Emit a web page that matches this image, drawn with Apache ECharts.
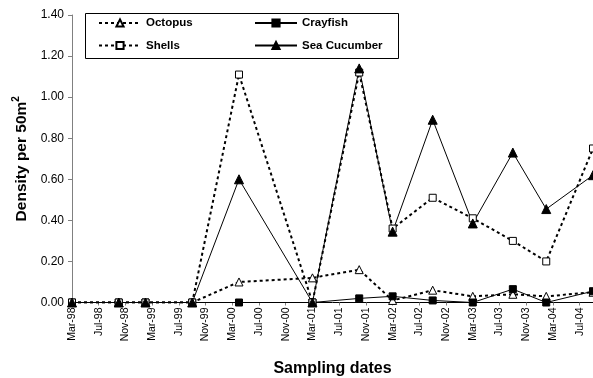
<!DOCTYPE html>
<html>
<head>
<meta charset="utf-8">
<script src="https://cdn.jsdelivr.net/npm/echarts@6/dist/echarts.min.js"></script>
<style>
html,body{margin:0;padding:0;background:#fff;}
#chart{width:593px;height:378px;}
</style>
</head>
<body>
<div id="chart"></div>
<script>
// Sampling dates (year-month)
var samplingDates = ['1998-03','1998-10','1999-02','1999-09','2000-04','2001-03','2001-10','2002-03','2002-09','2003-03','2003-09','2004-02','2004-09'];
var octopus      = [0, 0, 0, 0, 0.10, 0.12, 0.16, 0.01, 0.06, 0.03, 0.04, 0.03, 0.05];
var crayfish     = [0, 0, 0, 0, 0.00, 0.00, 0.02, 0.03, 0.01, 0.00, 0.065, 0.00, 0.055];
var shells       = [0, 0, 0, 0, 1.11, 0.00, 1.12, 0.36, 0.51, 0.41, 0.30, 0.20, 0.75];
var seaCucumber  = [0, 0, 0, 0, 0.60, 0.00, 1.14, 0.345, 0.89, 0.385, 0.73, 0.455, 0.62];
var tickLabels = ['Mar-98','Jul-98','Nov-98','Mar-99','Jul-99','Nov-99','Mar-00','Jul-00','Nov-00','Mar-01','Jul-01','Nov-01','Mar-02','Jul-02','Nov-02','Mar-03','Jul-03','Nov-03','Mar-04','Jul-04'];
var yTicks = [0, 0.2, 0.4, 0.6, 0.8, 1.0, 1.2, 1.4];

var FONT = 'Liberation Sans, Arial, sans-serif';
function monthIndex(s) {
  var p = s.split('-');
  return (parseInt(p[0], 10) - 1998) * 12 + (parseInt(p[1], 10) - 3);
}
var xs = samplingDates.map(monthIndex);
function pairs(vals) { return vals.map(function (v, i) { return [xs[i], v]; }); }

var chart = echarts.init(document.getElementById('chart'), null, {renderer: 'canvas'});
var dotted = {color: '#000', width: 2, type: [3, 3]};
var solid = {color: '#000', width: 1, type: 'solid'};
var legendText = {fontFamily: FONT, fontSize: 11.5, fontWeight: 'bold', color: '#000'};

chart.setOption({
  animation: false,
  backgroundColor: '#fff',
  grid: {left: 72, right: 0, top: 15, bottom: 75.5, containLabel: false, outerBoundsMode: 'none'},
  graphic: [{
    type: 'rect', left: 85, top: 13, z: 0,
    shape: {width: 313, height: 45},
    style: {fill: '#fff', stroke: '#000', lineWidth: 1}
  }],
  legend: [{
    data: ['Octopus', 'Shells'], orient: 'vertical', left: 98, top: 17,
    itemWidth: 42, itemHeight: 9, itemGap: 10.5, padding: 0,
    textStyle: legendText
  }, {
    data: ['Crayfish', 'Sea Cucumber'], orient: 'vertical', left: 254, top: 17,
    itemWidth: 42, itemHeight: 9, itemGap: 10.5, padding: 0,
    textStyle: legendText
  }],
  xAxis: {
    type: 'value', min: 0, max: 78, interval: 4,
    name: 'Sampling dates', nameLocation: 'middle', nameGap: 58,
    nameTextStyle: {fontFamily: FONT, fontSize: 16, fontWeight: 'bold', color: '#000'},
    axisLine: {lineStyle: {color: '#000', width: 1}},
    axisTick: {show: true, length: 3, lineStyle: {color: '#808080'}},
    splitLine: {show: false},
    axisLabel: {
      rotate: 90, margin: 5, fontFamily: FONT, fontSize: 10.5, color: '#000',
      showMaxLabel: false,
      formatter: function (v) { return (v % 4 === 0 && tickLabels[v / 4]) ? tickLabels[v / 4] : ''; }
    }
  },
  yAxis: {
    type: 'value', min: yTicks[0], max: yTicks[yTicks.length - 1], interval: 0.2,
    name: '{a|Density per 50m}{b|2}', nameLocation: 'middle', nameGap: 39,
    nameTextStyle: {
      fontFamily: FONT, fontSize: 15.5, fontWeight: 'bold', color: '#000',
      rich: {
        a: {fontFamily: FONT, fontSize: 15.5, fontWeight: 'bold', color: '#000', lineHeight: 20},
        b: {fontFamily: FONT, fontSize: 10, fontWeight: 'bold', color: '#000', verticalAlign: 'top', lineHeight: 20}
      }
    },
    axisLine: {show: true, lineStyle: {color: '#808080', width: 1}},
    axisTick: {show: true, length: 4, lineStyle: {color: '#808080'}},
    splitLine: {show: false},
    axisLabel: {
      margin: 8, fontFamily: FONT, fontSize: 12, color: '#000',
      formatter: function (v) { return v.toFixed(2); }
    }
  },
  series: [{
    name: 'Octopus', type: 'line', data: pairs(octopus),
    symbol: 'triangle', symbolSize: 8, lineStyle: dotted,
    itemStyle: {color: '#fff', borderColor: '#000', borderWidth: 1}
  }, {
    name: 'Crayfish', type: 'line', data: pairs(crayfish),
    symbol: 'rect', symbolSize: 7, lineStyle: solid,
    itemStyle: {color: '#000', borderColor: '#000', borderWidth: 1}
  }, {
    name: 'Shells', type: 'line', data: pairs(shells),
    symbol: 'rect', symbolSize: 7, lineStyle: dotted,
    itemStyle: {color: '#fff', borderColor: '#000', borderWidth: 1}
  }, {
    name: 'Sea Cucumber', type: 'line', data: pairs(seaCucumber),
    symbol: 'triangle', symbolSize: 9, lineStyle: solid,
    itemStyle: {color: '#000', borderColor: '#000', borderWidth: 1}
  }]
});
</script>
</body>
</html>
